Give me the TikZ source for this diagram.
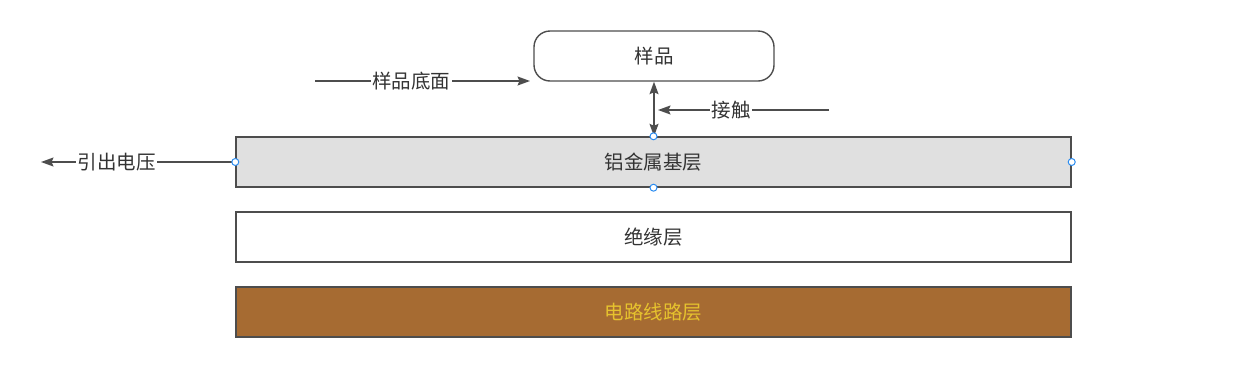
\documentclass[tikz,border=0pt]{standalone}
\usepackage{fontspec}
\setmainfont{Noto Sans CJK SC}
\usetikzlibrary{arrows.meta}
\definecolor{edge}{HTML}{4D4D4D}
\definecolor{txt}{HTML}{333333}
\definecolor{algray}{HTML}{E0E0E0}
\definecolor{copper}{HTML}{A66B32}
\definecolor{goldtxt}{HTML}{E6C22E}
\definecolor{handle}{HTML}{2B8CF0}
\tikzset{
  layer/.style={draw=edge, line width=1.4pt, minimum width=835pt, minimum height=50pt, inner sep=0pt, text=txt, font=\fontsize{19.5}{22}\selectfont},
  lbl/.style={fill=white, inner sep=1.5pt, text=txt, font=\fontsize{19.5}{22}\selectfont},
  conn/.style={draw=edge, line width=1.4pt},
  tip/.style={-{Stealth[length=12.5pt,width=9pt,inset=2pt]}},
  handledot/.style={circle, draw=handle, fill=white, line width=1pt, minimum size=7pt, inner sep=0pt},
}
\begin{document}
\begin{tikzpicture}[x=1pt,y=-1pt]
\useasboundingbox (0,0) rectangle (1233,381);
\node[layer, fill=algray] (al) at (653.5,162) {铝金属基层};
\node[layer, fill=white] (ins) at (653.5,237) {绝缘层};
\node[layer, fill=copper, text=goldtxt] (cir) at (653.5,312) {电路线路层};
\node[draw=edge, line width=1.4pt, rounded corners=16pt, minimum width=240pt, minimum height=50pt, inner sep=0pt, text=txt, font=\fontsize{19.5}{22}\selectfont] (smp) at (654,56) {样品};
% contact double arrow
\draw[conn, {Stealth[length=12.5pt,width=9pt,inset=2pt]}-{Stealth[length=12.5pt,width=9pt,inset=2pt]}] (smp.south -| 654,0) -- (al.north -| 654,0);
% sample bottom label arrow
\coordinate (sbs) at (315,81);
\coordinate (sbe) at (530,81);
\draw[conn, tip] (sbs) -- node[lbl, pos=0.447] {样品底面} (sbe);
% contact label arrow
\coordinate (cts) at (829,110);
\coordinate (cte) at (658,110);
\draw[conn, tip] (cts) -- node[lbl, pos=0.573] {接触} (cte);
% voltage lead
\coordinate (vle) at (41,162);
\draw[conn, tip] (al.west) -- node[lbl, pos=0.61] {引出电压} (vle);
% handles
\node[handledot] (h1) at (al.north) {};
\node[handledot] (h2) at (al.south) {};
\node[handledot] (h3) at (al.west) {};
\node[handledot] (h4) at (al.east) {};
\end{tikzpicture}
\end{document}
